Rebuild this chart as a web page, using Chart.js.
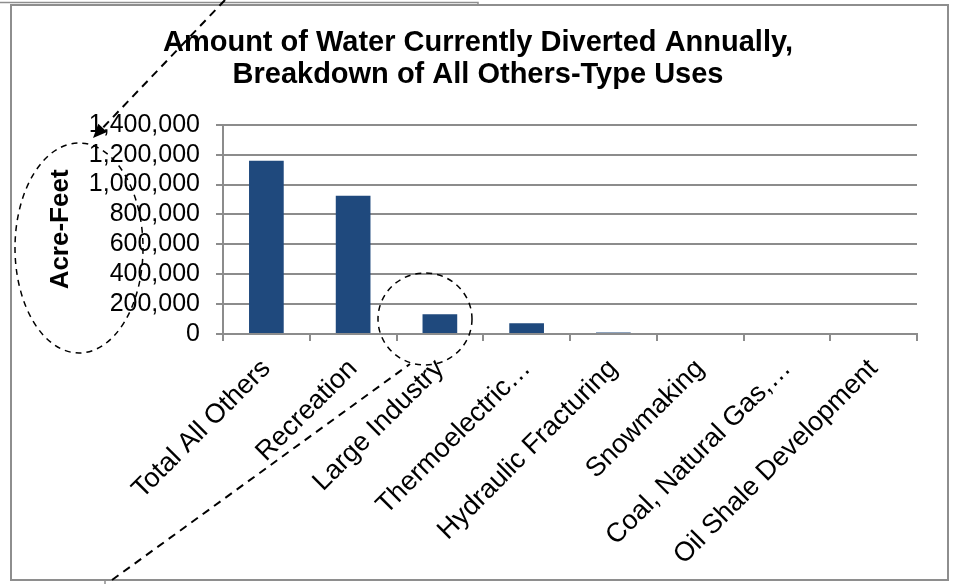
<!DOCTYPE html>
<html>
<head>
<meta charset="utf-8">
<script src="https://cdn.jsdelivr.net/npm/chart.js@4/dist/chart.umd.min.js"></script>
<style>
  html, body { margin: 0; padding: 0; background: #fff; }
  #wrap { width: 953px; height: 584px; }
</style>
</head>
<body>
<div id="wrap"><canvas id="c" width="953" height="584"></canvas></div>
<script>
// Categories of "all others" water use
const categories = [
  'Total All Others',
  'Recreation',
  'Large Industry',
  'Thermoelectric…',
  'Hydraulic Fracturing',
  'Snowmaking',
  'Coal, Natural Gas,…',
  'Oil Shale Development'
];

// Acre-feet diverted per year
const acreFeet = [1160000, 925000, 132000, 72000, 10000, 0, 0, 0];

// Value axis range
const yMin = 0;
const yMax = 1400000;
const yStep = 200000;

const titleLines = [
  'Amount of Water Currently Diverted Annually,',
  'Breakdown of All Others-Type Uses'
];
const yAxisTitle = 'Acre-Feet';

const FONT = "'Liberation Sans', Arial, sans-serif";
const GRID = '#8c8c8c';

// Frame around the chart plus the hand-drawn callouts (dashed ellipses and arrows)
const callouts = {
  id: 'callouts',
  beforeDraw(chart) {
    const ctx = chart.ctx;
    ctx.save();
    ctx.fillStyle = '#fff';
    ctx.fillRect(0, 0, chart.width, chart.height);
    ctx.strokeStyle = '#8e8e8e';
    ctx.lineWidth = 2;
    ctx.strokeRect(11, 5, 937, 575);
    // neighbouring frame edges
    ctx.lineWidth = 1.5;
    ctx.beginPath();
    ctx.moveTo(0, 2.5); ctx.lineTo(478, 2.5); ctx.lineTo(478, 5);
    ctx.moveTo(105, 580); ctx.lineTo(105, 584);
    ctx.stroke();
    ctx.restore();
  },
  afterDraw(chart) {
    const ctx = chart.ctx;
    ctx.save();
    ctx.strokeStyle = '#000';
    ctx.fillStyle = '#000';

    // arrow from the top edge down to the axis labels
    const ax0 = 225, ay0 = 0, ax1 = 93, ay1 = 138;
    const ang = Math.atan2(ay1 - ay0, ax1 - ax0);
    ctx.lineWidth = 2;
    ctx.setLineDash([8, 6]);
    ctx.beginPath();
    ctx.moveTo(ax0, ay0);
    ctx.lineTo(ax1 - 10 * Math.cos(ang), ay1 - 10 * Math.sin(ang));
    ctx.stroke();
    ctx.setLineDash([]);
    ctx.beginPath();
    ctx.moveTo(ax1, ay1);
    ctx.lineTo(ax1 - 14 * Math.cos(ang) + 6 * Math.sin(ang), ay1 - 14 * Math.sin(ang) - 6 * Math.cos(ang));
    ctx.lineTo(ax1 - 14 * Math.cos(ang) - 6 * Math.sin(ang), ay1 - 14 * Math.sin(ang) + 6 * Math.cos(ang));
    ctx.closePath();
    ctx.fill();

    // long dashed line from the bottom edge
    ctx.lineWidth = 2;
    ctx.setLineDash([8, 6]);
    ctx.beginPath();
    ctx.moveTo(112, 580);
    ctx.lineTo(410, 364);
    ctx.stroke();

    // ellipse round the axis title
    ctx.lineWidth = 1.5;
    ctx.setLineDash([6, 5]);
    ctx.beginPath();
    ctx.ellipse(79, 248, 64, 105, 0, 0, Math.PI * 2);
    ctx.stroke();

    // circle round the Large Industry bar
    ctx.beginPath();
    ctx.ellipse(425, 319, 47, 46, 0, 0, Math.PI * 2);
    ctx.stroke();
    ctx.restore();
  }
};

new Chart(document.getElementById('c'), {
  type: 'bar',
  data: {
    labels: categories,
    datasets: [{
      data: acreFeet,
      backgroundColor: '#1F497D',
      borderWidth: 0,
      barPercentage: 0.4,
      categoryPercentage: 1.0
    }]
  },
  options: {
    responsive: false,
    animation: false,
    devicePixelRatio: 1,
    layout: { padding: { left: 12, right: 9, top: 0, bottom: 6 } },
    plugins: {
      legend: { display: false },
      tooltip: { enabled: false },
      title: {
        display: true,
        text: titleLines,
        color: '#000',
        font: { family: FONT, size: 29, weight: 'bold', lineHeight: 1.1 },
        padding: { top: 27, bottom: 34 }
      }
    },
    scales: {
      x: {
        grid: {
          display: true,
          drawOnChartArea: false,
          drawTicks: true,
          tickLength: 7,
          color: GRID,
          lineWidth: 2,
          offset: true
        },
        border: { display: true, color: GRID, width: 2 },
        ticks: {
          color: '#000',
          font: { family: FONT, size: 27 },
          minRotation: 45,
          maxRotation: 45,
          autoSkip: false,
          padding: 12
        },
        afterFit(scale) { scale.height = 244; }
      },
      y: {
        min: yMin,
        max: yMax,
        grid: {
          color: GRID,
          lineWidth: 2,
          tickLength: 7,
          drawTicks: true
        },
        border: { display: true, color: GRID, width: 2 },
        ticks: {
          stepSize: yStep,
          autoSkip: false,
          color: '#000',
          font: { family: FONT, size: 25 },
          padding: 16,
          callback: (v) => Number(v).toLocaleString('en-US')
        },
        title: {
          display: true,
          text: yAxisTitle,
          color: '#000',
          font: { family: FONT, size: 26, weight: 'bold', lineHeight: 1.2 },
          padding: { top: 33, bottom: 0 }
        },
        afterFit(scale) { scale.width = 211; }
      },
      // empty right-hand margin so the plot ends short of the frame
      yRight: {
        position: 'right',
        display: true,
        grid: { display: false },
        border: { display: false },
        ticks: { display: false },
        afterFit(scale) { scale.width = 27; }
      }
    }
  },
  plugins: [callouts]
});
</script>
</body>
</html>
